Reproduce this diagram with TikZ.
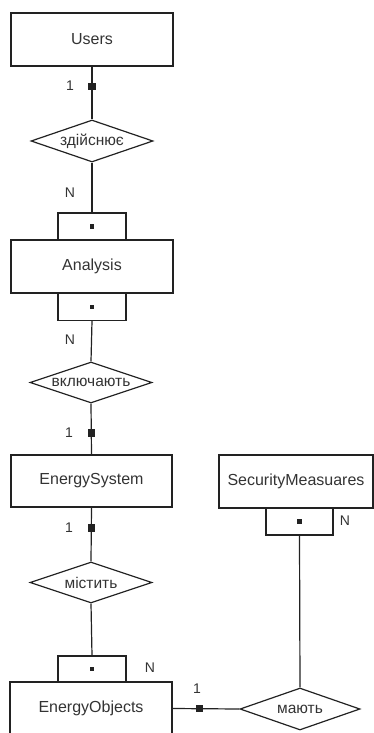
\documentclass[tikz,border=0pt]{standalone}
\usepackage{fontspec}
\setmainfont{Liberation Sans}
\usetikzlibrary{shapes.geometric}
\definecolor{ln}{HTML}{222222}
\definecolor{tx}{HTML}{333333}
\tikzset{
  ent/.style={draw=ln, line width=1.2pt, rectangle, minimum width=162pt, minimum height=53pt, inner sep=0pt, text=tx, font=\fontsize{16}{18}\selectfont},
  sub/.style={draw=ln, line width=1.2pt, rectangle, minimum width=68pt, minimum height=27pt, inner sep=0pt},
  rel/.style={draw=ln, line width=1.2pt, diamond, aspect=2.9, minimum width=122pt, minimum height=42pt, inner sep=0pt, text=tx, font=\fontsize{15.5}{18}\selectfont},
  sq/.style={draw=ln, fill=ln, rectangle, minimum width=6pt, minimum height=6pt, inner sep=0pt},
  dotm/.style={fill=ln, rectangle, minimum width=4.5pt, minimum height=4.5pt, inner sep=0pt},
  card/.style={text=tx, inner sep=0pt, font=\fontsize{14}{16}\selectfont},
  con/.style={draw=ln, line width=1.2pt}
}
\begin{document}
\begin{tikzpicture}[x=1pt,y=-1pt]
\useasboundingbox (0,0) rectangle (374,733);
\clip (0,0) rectangle (374,733);
% entities
\node[ent] (users) at (92,39.5) {Users};
\node[sub] (abt) at (92,226.5) {};
\node[dotm] (abtd) at (abt.center) {};
\node[ent] (analysis) at (92,266.5) {Analysis};
\node[sub] (abb) at (92,307) {};
\node[dotm] (abbd) at (abb.center) {};
\node[ent, minimum width=161pt, minimum height=52pt] (es) at (91.5,481) {EnergySystem};
\node[ent, minimum width=154pt] (sm) at (296,481.5) {SecurityMeasuares};
\node[sub, minimum width=67pt] (smb) at (299.5,521.5) {};
\node[dotm] (smbd) at (smb.center) {};
\node[sub, minimum height=26pt] (eob) at (92,669) {};
\node[dotm] (eobd) at (eob.center) {};
\node[ent] (eo) at (91,708.5) {EnergyObjects};
% relations
\node[rel] (zd) at (92,141) {здійснює};
\node[rel, minimum height=41pt] (vk) at (91,382.5) {включають};
\node[rel, minimum height=41pt] (ms) at (91,582.5) {містить};
\node[rel, minimum width=120pt] (ma) at (300,709) {мають};
% connectors
\draw[con] (users.south) -- node[sq, pos=0.37] (s1) {} (zd.north);
\draw[con] (zd.south) -- (abt.north);
\draw[con] (abb.south) -- (vk.north);
\draw[con] (vk.south) -- node[sq, pos=0.58] (s2) {} (es.north);
\draw[con] (es.south) -- node[sq, pos=0.38] (s3) {} (ms.north);
\draw[con] (ms.south) -- (eob.north);
\draw[con] (smb.south) -- (ma.north);
\draw[con] (eo.east) -- node[sq, pos=0.4] (s4) {} (ma.west);
% cardinalities
\node[card] (c1) at (70,86) {1};
\node[card] (c2) at (70,193) {N};
\node[card] (c3) at (70,340) {N};
\node[card] (c4) at (69,433) {1};
\node[card] (c5) at (69,528) {1};
\node[card] (c6) at (150,668) {N};
\node[card] (c7) at (345,521) {N};
\node[card] (c8) at (197,689) {1};
\end{tikzpicture}
\end{document}
